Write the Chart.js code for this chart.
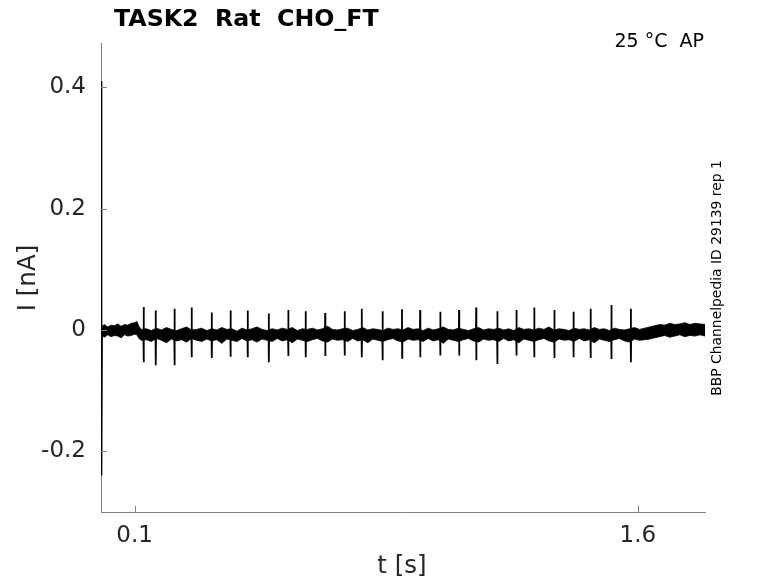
<!DOCTYPE html>
<html>
<head>
<meta charset="utf-8">
<script src="https://cdn.jsdelivr.net/npm/chart.js@4.4.1/dist/chart.umd.min.js"></script>
<style>
html,body{margin:0;padding:0;background:#fff;}
canvas{display:block;}
</style>
</head>
<body>
<canvas id="c" width="778" height="583"></canvas>
<script>
// ---- data ----
const xTicks = [0.1, 1.6];
const yTicks = [-0.2, 0, 0.2, 0.4];

// baseline / transient of the current trace (t in s, I in nA)
const baseT = [0, 0.001, 0.0016, 0.003, 0.11, 0.12, 1.63, 1.67, 1.8];
const baseV = [0, 0.41, -0.24, 0.0, 0.001, -0.008, -0.008, 0.0, 0.0];

// spikes (time, positive tip, negative tip)
const spikeT = [0.127,0.163,0.219,0.270,0.330,0.386,0.437,0.500,0.558,0.610,0.668,0.726,0.777,0.839,0.897,0.951,1.011,1.067,1.118,1.181,1.238,1.291,1.351,1.408,1.459,1.521,1.579];
const spikeUp = [0.038,0.032,0.035,0.037,0.029,0.032,0.032,0.027,0.033,0.031,0.028,0.031,0.035,0.031,0.034,0.033,0.030,0.033,0.037,0.031,0.033,0.037,0.033,0.030,0.035,0.041,0.035];
const spikeDown = [-0.053,-0.058,-0.058,-0.045,-0.046,-0.044,-0.045,-0.053,-0.043,-0.045,-0.043,-0.042,-0.045,-0.050,-0.046,-0.045,-0.042,-0.042,-0.050,-0.056,-0.042,-0.045,-0.046,-0.045,-0.046,-0.048,-0.053];
const spikeBase = -0.008;

// noise band envelope (upper / lower edge)
const bandT = [0.003,0.01,0.02,0.03,0.04,0.05,0.06,0.07,0.08,0.09,0.1,0.107,0.113,0.12,
  0.135,0.15,0.165,0.18,0.195,0.21,0.225,0.24,0.255,0.27,
  0.285,0.3,0.315,0.33,0.345,0.36,0.375,0.39,0.405,0.42,
  0.435,0.45,0.465,0.48,0.495,0.51,0.525,0.54,0.555,0.57,
  0.585,0.6,0.615,0.63,0.645,0.66,0.675,0.69,0.705,0.72,
  0.735,0.75,0.765,0.78,0.795,0.81,0.825,0.84,0.855,0.87,
  0.885,0.9,0.915,0.93,0.945,0.96,0.975,0.99,1.005,1.02,
  1.035,1.05,1.065,1.08,1.095,1.11,1.125,1.14,1.155,1.17,
  1.185,1.2,1.215,1.23,1.245,1.26,1.275,1.29,1.305,1.32,
  1.335,1.35,1.365,1.38,1.395,1.41,1.425,1.44,1.455,1.47,
  1.485,1.5,1.515,1.53,1.545,1.56,1.575,1.59,1.605,1.62,
  1.635,1.65,1.665,1.68,1.695,1.71,1.725,1.74,1.755,1.77,1.785,1.8];
const bandHi = [0.006,0.009,0.005,0.008,0.007,0.010,0.006,0.009,0.008,0.011,0.012,0.014,0.006,0.001,
  0.002,-0.001,0.003,0.000,0.004,0.001,-0.001,0.002,0.005,0.000,
  0.001,0.003,-0.001,0.002,0.000,0.004,0.001,0.002,-0.002,0.003,
  0.000,0.002,0.005,0.001,-0.001,0.002,0.000,0.003,0.001,0.004,
  -0.001,0.002,0.001,0.003,0.000,0.002,0.006,0.001,0.000,0.002,
  0.003,-0.001,0.001,0.004,0.000,0.002,0.001,-0.001,0.003,0.001,
  0.002,0.000,0.004,0.001,0.002,-0.001,0.003,0.000,0.002,0.005,
  0.001,0.000,0.003,0.001,-0.001,0.002,0.004,0.000,0.002,0.001,
  0.003,0.000,0.002,-0.001,0.004,0.001,0.002,0.000,0.003,0.001,
  0.005,0.000,0.002,0.001,-0.001,0.003,0.001,0.002,0.000,0.004,
  0.001,0.002,-0.001,0.003,0.001,0.000,0.002,0.004,0.001,0.003,
  0.005,0.007,0.009,0.008,0.011,0.009,0.010,0.012,0.009,0.011,0.010,0.009];
const bandLo = [-0.009,-0.012,-0.008,-0.011,-0.009,-0.010,-0.013,-0.008,-0.010,-0.009,-0.007,-0.008,-0.014,-0.017,
  -0.016,-0.019,-0.014,-0.017,-0.021,-0.015,-0.018,-0.016,-0.020,-0.014,
  -0.017,-0.019,-0.015,-0.018,-0.016,-0.022,-0.015,-0.017,-0.019,-0.014,
  -0.018,-0.016,-0.020,-0.015,-0.017,-0.019,-0.014,-0.018,-0.016,-0.021,
  -0.015,-0.017,-0.019,-0.016,-0.014,-0.018,-0.020,-0.015,-0.017,-0.016,
  -0.019,-0.014,-0.018,-0.016,-0.021,-0.015,-0.017,-0.019,-0.016,-0.014,
  -0.018,-0.020,-0.015,-0.017,-0.016,-0.019,-0.014,-0.018,-0.016,-0.022,
  -0.015,-0.017,-0.019,-0.016,-0.014,-0.018,-0.020,-0.015,-0.017,-0.016,
  -0.019,-0.014,-0.018,-0.016,-0.021,-0.015,-0.017,-0.019,-0.016,-0.014,
  -0.018,-0.020,-0.015,-0.017,-0.016,-0.019,-0.014,-0.018,-0.016,-0.021,
  -0.015,-0.017,-0.019,-0.016,-0.014,-0.018,-0.020,-0.015,-0.017,-0.016,
  -0.015,-0.013,-0.011,-0.009,-0.012,-0.010,-0.008,-0.011,-0.009,-0.010,-0.008,-0.010];

// ---- build library data ----
const trace = baseT.map((t,i)=>({x:t,y:baseV[i]}));
spikeT.forEach((t,i)=>{
  trace.push({x:t-0.0006,y:spikeBase},{x:t,y:spikeUp[i]},{x:t+0.0004,y:spikeDown[i]},{x:t+0.001,y:spikeBase});
});
trace.sort((a,b)=>a.x-b.x);
const hi = bandT.map((t,i)=>({x:t,y:bandHi[i]}));
const lo = bandT.map((t,i)=>({x:t,y:bandLo[i]}));

const FONT = "'DejaVu Sans', sans-serif";
const AXIS = '#7f7f7f';
const TXT = '#262626';

const decor = {
  id:'decor',
  afterDraw(chart){
    const ctx = chart.ctx, xs = chart.scales.x, ys = chart.scales.y, a = chart.chartArea;
    ctx.save();
    ctx.strokeStyle = AXIS; ctx.lineWidth = 1;
    ctx.beginPath();
    yTicks.forEach(v=>{const p=Math.round(ys.getPixelForValue(v))+0.5; ctx.moveTo(a.left,p); ctx.lineTo(a.left+6,p);});
    xTicks.forEach(v=>{const p=Math.round(xs.getPixelForValue(v))+0.5; ctx.moveTo(p,a.bottom); ctx.lineTo(p,a.bottom-6);});
    ctx.stroke();
    ctx.fillStyle = '#000';
    ctx.font = "bold 23.7px " + FONT;
    ctx.textAlign='left'; ctx.textBaseline='alphabetic';
    ctx.fillText('TASK2  Rat  CHO_FT', 114, 26);
    ctx.font = "19px " + FONT;
    ctx.textAlign='right';
    ctx.fillText('25 °C  AP', 704, 47);
    ctx.fillStyle = TXT;
    ctx.font = "24.5px " + FONT;
    ctx.textAlign='center';
    ctx.fillText('t [s]', 402, 573);
    ctx.save();
    ctx.translate(29, 278); ctx.rotate(-Math.PI/2);
    ctx.textBaseline='middle';
    ctx.fillText('I [nA]', 0, 0);
    ctx.restore();
    ctx.save();
    ctx.fillStyle='#000';
    ctx.translate(717, 278); ctx.rotate(-Math.PI/2);
    ctx.font = "13.9px " + FONT;
    ctx.textAlign='center'; ctx.textBaseline='middle';
    ctx.fillText('BBP Channelpedia ID 29139 rep 1', 0, 0);
    ctx.restore();
    ctx.restore();
  }
};

new Chart(document.getElementById('c'), {
  type:'scatter',
  data:{datasets:[
    {data:hi, showLine:true, borderColor:'#000', backgroundColor:'#000', borderWidth:0.8, pointRadius:0, fill:'+1', tension:0},
    {data:lo, showLine:true, borderColor:'#000', backgroundColor:'#000', borderWidth:0.8, pointRadius:0, fill:false, tension:0},
    {data:trace, showLine:true, borderColor:'#000', borderWidth:1.8, pointRadius:0, fill:false, tension:0}
  ]},
  options:{
    responsive:false, animation:false, devicePixelRatio:1,
    layout:{padding:{top:43,right:73,left:0,bottom:0}},
    plugins:{legend:{display:false}, tooltip:{enabled:false}, title:{display:false}},
    scales:{
      x:{type:'linear', min:0, max:1.8,
        afterBuildTicks(s){s.ticks = xTicks.map(v=>({value:v}));},
        afterFit(s){s.height = 71;},
        grid:{display:false, drawTicks:false},
        border:{display:true, color:AXIS, width:1},
        ticks:{font:{family:FONT,size:23}, color:TXT, padding:10, maxRotation:0, callback:v=>String(v)}
      },
      y:{type:'linear', min:-0.3, max:0.473,
        afterBuildTicks(s){s.ticks = yTicks.map(v=>({value:v}));},
        afterFit(s){s.width = 101;},
        grid:{display:false, drawTicks:false},
        border:{display:true, color:AXIS, width:1},
        ticks:{font:{family:FONT,size:23}, color:TXT, padding:15, callback:v=>String(v)}
      }
    }
  },
  plugins:[decor]
});
</script>
</body>
</html>
